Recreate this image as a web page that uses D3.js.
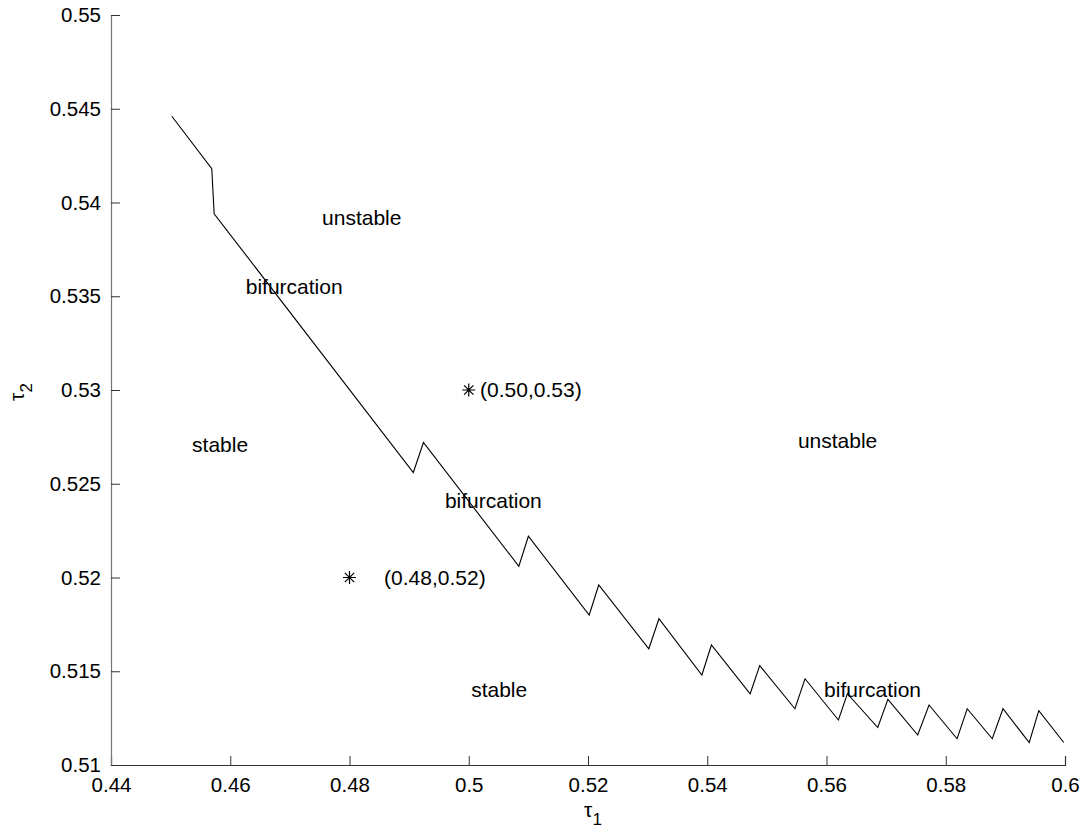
<!DOCTYPE html>
<html>
<head>
<meta charset="utf-8">
<script src="https://cdn.jsdelivr.net/npm/d3@7"></script>
<style>
  body { margin: 0; background: #fff; }
  text { font-family: "Liberation Sans", Arial, sans-serif; }
</style>
</head>
<body>
<svg id="chart" width="1085" height="831"></svg>
<script>
// tick values
var xTicks = [0.44, 0.46, 0.48, 0.5, 0.52, 0.54, 0.56, 0.58, 0.6];
var yTicks = [0.51, 0.515, 0.52, 0.525, 0.53, 0.535, 0.54, 0.545, 0.55];

// bifurcation curve (tau1, tau2)
var curveT1 = [0.4502, 0.4569, 0.4573, 0.4907, 0.4924, 0.5084, 0.5100, 0.5202, 0.5218,
  0.5302, 0.5319, 0.5391, 0.5407, 0.5472, 0.5488, 0.5547, 0.5564, 0.5620, 0.5635,
  0.5686, 0.5703, 0.5753, 0.5772, 0.5819, 0.5836, 0.5878, 0.5896, 0.5940, 0.5956, 0.5998];
var curveT2 = [0.5446, 0.5418, 0.5394, 0.5256, 0.5272, 0.5206, 0.5222, 0.5180, 0.5196,
  0.5162, 0.5178, 0.5148, 0.5164, 0.5138, 0.5153, 0.5130, 0.5146, 0.5124, 0.5138,
  0.5120, 0.5135, 0.5116, 0.5132, 0.5114, 0.5130, 0.5114, 0.5130, 0.5112, 0.5129, 0.5112];

// marked points
var markT1 = [0.50, 0.48];
var markT2 = [0.53, 0.52];

// text annotations
var noteText = ["unstable", "bifurcation", "stable", "(0.50,0.53)", "bifurcation",
  "(0.48,0.52)", "stable", "unstable", "bifurcation"];
var noteT1 = [0.4754, 0.4626, 0.4536, 0.5019, 0.4960, 0.4858, 0.5004, 0.5552, 0.5596];
var noteT2 = [0.5392, 0.5355, 0.5271, 0.5300, 0.5241, 0.5200, 0.5140, 0.5273, 0.5140];

var margin = { left: 111, right: 20, top: 15, bottom: 66 };
var W = 1085, H = 831;

var svg = d3.select("#chart");

var x = d3.scaleLinear().domain([0.44, 0.6]).range([margin.left, W - margin.right]);
var y = d3.scaleLinear().domain([0.51, 0.55]).range([H - margin.bottom, margin.top]);

// axes: ticks point inward, like matlab
var xAxis = d3.axisBottom(x).tickValues(xTicks).tickSize(-9).tickPadding(12)
  .tickFormat(d => d3.format("")(+d.toFixed(3)));
var yAxis = d3.axisLeft(y).tickValues(yTicks).tickSize(-9).tickPadding(10)
  .tickFormat(d => d3.format("")(+d.toFixed(3)));

var gx = svg.append("g")
  .attr("transform", `translate(0,${H - margin.bottom})`)
  .call(xAxis);
var gy = svg.append("g")
  .attr("transform", `translate(${margin.left},0)`)
  .call(yAxis);

[gx, gy].forEach(g => {
  g.select(".domain").attr("stroke", "#333").attr("stroke-width", 1.2);
  g.selectAll(".tick line").attr("stroke", "#333");
  g.selectAll(".tick text").attr("font-size", 20.5).attr("fill", "#000")
    .style("font-family", "'Liberation Sans', Arial, sans-serif");
});
gy.select(".domain").attr("stroke", "#777");
gx.selectAll(".tick text").attr("dy", "0.71em");

// curve
var pts = curveT1.map((t, i) => [t, curveT2[i]]);
var line = d3.line().x(d => x(d[0])).y(d => y(d[1]));
svg.append("path")
  .datum(pts)
  .attr("d", line)
  .attr("fill", "none")
  .attr("stroke", "#000")
  .attr("stroke-width", 1.1);

// asterisk markers (4 spokes)
var r = 6.5;
var star = "M" + (-r) + ",0L" + r + ",0M0," + (-r) + "L0," + r +
  "M" + (-r * 0.72) + "," + (-r * 0.72) + "L" + (r * 0.72) + "," + (r * 0.72) +
  "M" + (-r * 0.72) + "," + (r * 0.72) + "L" + (r * 0.72) + "," + (-r * 0.72);
svg.selectAll("path.mark")
  .data(markT1.map((t, i) => [t, markT2[i]]))
  .join("path")
  .attr("class", "mark")
  .attr("d", star)
  .attr("transform", d => `translate(${x(d[0])},${y(d[1])})`)
  .attr("stroke", "#000")
  .attr("stroke-width", 1.2)
  .attr("fill", "none");

// annotations
svg.selectAll("text.note")
  .data(noteText.map((t, i) => ({ t: t, a: noteT1[i], b: noteT2[i] })))
  .join("text")
  .attr("class", "note")
  .attr("x", d => x(d.a))
  .attr("y", d => y(d.b))
  .attr("dy", "0.35em")
  .attr("font-size", 21)
  .text(d => d.t);

// axis labels
var xl = svg.append("text")
  .attr("x", x(0.52) + 5)
  .attr("y", 817)
  .attr("text-anchor", "middle")
  .attr("font-size", 21);
xl.append("tspan").text("τ");
xl.append("tspan").attr("dy", 8).attr("font-size", 17).text("1");

var yl = svg.append("text")
  .attr("transform", `translate(24,${y(0.53) + 2}) rotate(-90)`)
  .attr("text-anchor", "middle")
  .attr("font-size", 21);
yl.append("tspan").text("τ");
yl.append("tspan").attr("dy", 8).attr("font-size", 17).text("2");
</script>
</body>
</html>
